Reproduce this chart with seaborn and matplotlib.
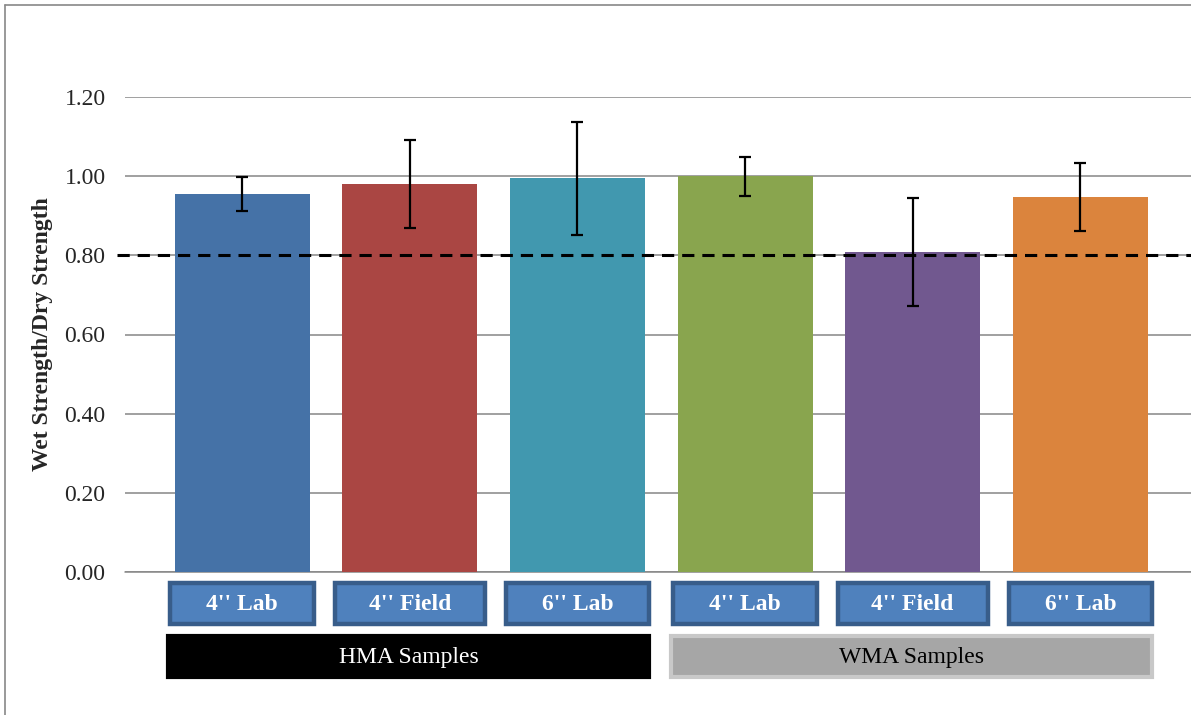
import matplotlib
matplotlib.use('Agg')
import matplotlib.pyplot as plt
import seaborn as sns
from matplotlib.patches import Rectangle
from matplotlib.lines import Line2D

# -------------------------------------------------------------
# DATA
# -------------------------------------------------------------
samples = ['HMA 4" Lab', 'HMA 4" Field', 'HMA 6" Lab',
           'WMA 4" Lab', 'WMA 4" Field', 'WMA 6" Lab']
tick_labels = ["4'' Lab", "4'' Field", "6'' Lab",
               "4'' Lab", "4'' Field", "6'' Lab"]
ratio = [0.955, 0.980, 0.995, 1.000, 0.808, 0.947]
ratio_err = [0.043, 0.112, 0.143, 0.049, 0.136, 0.086]
groups = ['HMA Samples', 'WMA Samples']
group_members = [[0, 1, 2], [3, 4, 5]]
threshold = 0.80

bar_colors = ['#4572A7', '#AA4643', '#4198AF', '#89A54E', '#71588F', '#DB843D']

# -------------------------------------------------------------
# STYLE
# -------------------------------------------------------------
sns.set_theme(style='white')
plt.rcParams['font.family'] = ['Liberation Serif', 'DejaVu Serif']

fig = plt.figure(figsize=(11.91, 7.15), dpi=100)
ax = fig.add_axes([125 / 1191, 1 - 572 / 715, 1 - 125 / 1191, 475 / 715])

sns.barplot(x=samples, y=ratio, hue=samples, palette=bar_colors,
            width=0.805, legend=False, saturation=1, linewidth=0, ax=ax)

xs = list(range(len(samples)))
ax.errorbar(xs, ratio, yerr=ratio_err, fmt='none', ecolor='black',
            elinewidth=1.6, capsize=4.3, capthick=1.6, zorder=5)

ax.set_ylim(0, 1.2)
ax.set_xlim(-0.698, 5.66)
ax.set_yticks([0, 0.2, 0.4, 0.6, 0.8, 1.0, 1.2])
ax.set_yticklabels([f'{v:.2f}' for v in ax.get_yticks()], fontsize=17)
ax.tick_params(axis='y', length=0, pad=14)
ax.set_xticks([])
ax.set_xlabel('')
ax.yaxis.grid(True, color='#868686', linewidth=1.1)
ax.set_axisbelow(True)
ax.axhline(0, color='#868686', linewidth=1.1, clip_on=False, zorder=0.5)
for s in ax.spines.values():
    s.set_visible(False)

ax.set_ylabel('Wet Strength/Dry Strength', fontsize=17, fontweight='bold', labelpad=8)

# linha de referência 0.80
ax.plot([-0.748, 5.66], [threshold, threshold], color='black', lw=2.2,
        ls=(0, (4, 2.6)), clip_on=False, zorder=4)

# -------------------------------------------------------------
# CAIXAS DE RÓTULOS
# -------------------------------------------------------------
trans = ax.get_xaxis_transform()
for x, lab in zip(xs, tick_labels):
    w = 0.895 if 'Field' in lab else 0.855
    ax.add_patch(Rectangle((x - w / 2, -0.110), w, 0.086, transform=trans,
                           facecolor='#4F81BD', edgecolor='#385D8A', lw=3.2,
                           clip_on=False, zorder=3))
    ax.text(x, -0.069, lab, transform=trans, ha='center', va='center',
            fontsize=17, fontweight='bold', color='white', clip_on=False)

group_styles = [dict(fc='black', ec='black', tc='white'),
                dict(fc='#A6A6A6', ec='#C8C8C8', tc='black')]
for name, members, st in zip(groups, group_members, group_styles):
    x0 = members[0] - 0.44
    x1 = members[-1] + 0.43
    ax.add_patch(Rectangle((x0, -0.222), x1 - x0, 0.088, transform=trans,
                           facecolor=st['fc'], edgecolor=st['ec'], lw=3,
                           clip_on=False, zorder=3))
    ax.text((x0 + x1) / 2, -0.180, name, transform=trans, ha='center',
            va='center', fontsize=17, color=st['tc'], clip_on=False)

# borda da área do gráfico
fig.add_artist(Line2D([5 / 1191, 5 / 1191], [0, 1 - 5 / 715], color='#888888', lw=1.2))
fig.add_artist(Line2D([5 / 1191, 1], [1 - 5 / 715, 1 - 5 / 715], color='#888888', lw=1.2))

plt.savefig('out.png', dpi=100)
